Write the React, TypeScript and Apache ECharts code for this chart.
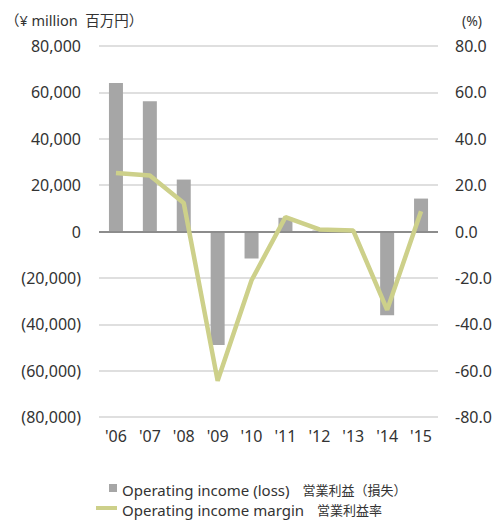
import React, { useEffect, useRef } from "react";
import * as echarts from "echarts";

const categories = ["'06", "'07", "'08", "'09", "'10", "'11", "'12", "'13", "'14", "'15"];
const operatingIncome = [64000, 56200, 22400, -49000, -11600, 5900, 400, 200, -36100, 14200];
const operatingMargin = [25.2, 24.1, 12.3, -64.4, -21.0, 6.2, 0.9, 0.4, -33.8, 8.7];
const leftTicks = { min: -80000, max: 80000, interval: 20000 };
const rightTicks = { min: -80, max: 80, interval: 20 };
const seriesNames = ["Operating income (loss)", "Operating income margin"];
const seriesNamesJa = ["営業利益（損失）", "営業利益率"];

const FONT = "'Noto Sans', 'Noto Sans CJK JP', sans-serif";

export default function App() {
  const ref = useRef<HTMLDivElement>(null);
  useEffect(() => {
    if (!ref.current) return;
    const chart = echarts.init(ref.current, null, { renderer: "svg" });
    const fmtLeft = (v: number) => {
      const s = Math.abs(v).toLocaleString("en-US");
      return v < 0 ? `(${s})` : s;
    };
    const legendFormatter = (name: string) => {
      const i = seriesNames.indexOf(name);
      return `{en|${name}}{gap|}{ja|${seriesNamesJa[i]}}`;
    };
    const legendRich = {
      en: { fontSize: 15, fontFamily: FONT, color: "#333", lineHeight: 18, verticalAlign: "bottom" },
      gap: { width: 13, lineHeight: 18 },
      ja: { fontSize: 13, fontFamily: FONT, color: "#333", lineHeight: 18, verticalAlign: "bottom", padding: [0, 0, 1, 0] },
    };
    chart.setOption({
      animation: false,
      textStyle: { fontFamily: FONT },
      grid: { left: 99, right: 59, top: 46, bottom: 104 },
      title: [
        {
          text: "（¥ million  百万円）",
          left: 0,
          top: 8,
          textStyle: { fontSize: 14.5, fontWeight: "normal", color: "#333", fontFamily: FONT },
        },
        {
          text: "(%)",
          left: 457,
          top: 8,
          textStyle: { fontSize: 14, fontWeight: "normal", color: "#333", fontFamily: FONT },
        },
      ],
      legend: [
        {
          data: [seriesNames[0]],
          left: 109,
          top: 482,
          itemWidth: 8,
          itemHeight: 8,
          icon: "rect",
          itemGap: 0,
          padding: 0,
          formatter: legendFormatter,
          textStyle: { rich: legendRich },
        },
        {
          data: [seriesNames[1]],
          left: 96,
          top: 502,
          itemWidth: 21,
          itemHeight: 4,
          icon: "rect",
          padding: 0,
          formatter: legendFormatter,
          textStyle: { rich: legendRich },
        },
      ],
      xAxis: {
        type: "category",
        data: categories,
        axisLine: { show: false },
        axisTick: { show: false },
        axisLabel: { fontSize: 16, color: "#333", margin: 11, fontFamily: FONT },
      },
      yAxis: [
        {
          type: "value",
          ...leftTicks,
          axisLine: { show: false },
          axisTick: { show: false },
          splitLine: { lineStyle: { color: "#d4d4d4", width: 1.5 } },
          axisLabel: { fontSize: 16, color: "#333", margin: 18, formatter: fmtLeft, fontFamily: FONT },
        },
        {
          type: "value",
          ...rightTicks,
          position: "right",
          axisLine: { show: false },
          axisTick: { show: false },
          splitLine: { show: false },
          axisLabel: {
            fontSize: 16,
            color: "#333",
            margin: 17,
            formatter: (v: number) => v.toFixed(1),
            fontFamily: FONT,
          },
        },
      ],
      series: [
        {
          name: seriesNames[0],
          type: "bar",
          data: operatingIncome,
          barWidth: 14,
          itemStyle: { color: "#a6a6a6" },
          markLine: {
            silent: true,
            symbol: "none",
            label: { show: false },
            lineStyle: { color: "#8c8c8c", width: 2, type: "solid" },
            data: [{ yAxis: 0 }],
          },
        },
        {
          name: seriesNames[1],
          type: "line",
          yAxisIndex: 1,
          data: operatingMargin,
          showSymbol: false,
          symbol: "none",
          lineStyle: { color: "#cdd08a", width: 4.5 },
          itemStyle: { color: "#cdd08a" },
          z: 5,
        },
      ],
    });
    return () => chart.dispose();
  }, []);
  return (
    <div
      ref={ref}
      style={{ position: "fixed", left: 0, top: 0, width: 497, height: 521, background: "#fff" }}
    />
  );
}
